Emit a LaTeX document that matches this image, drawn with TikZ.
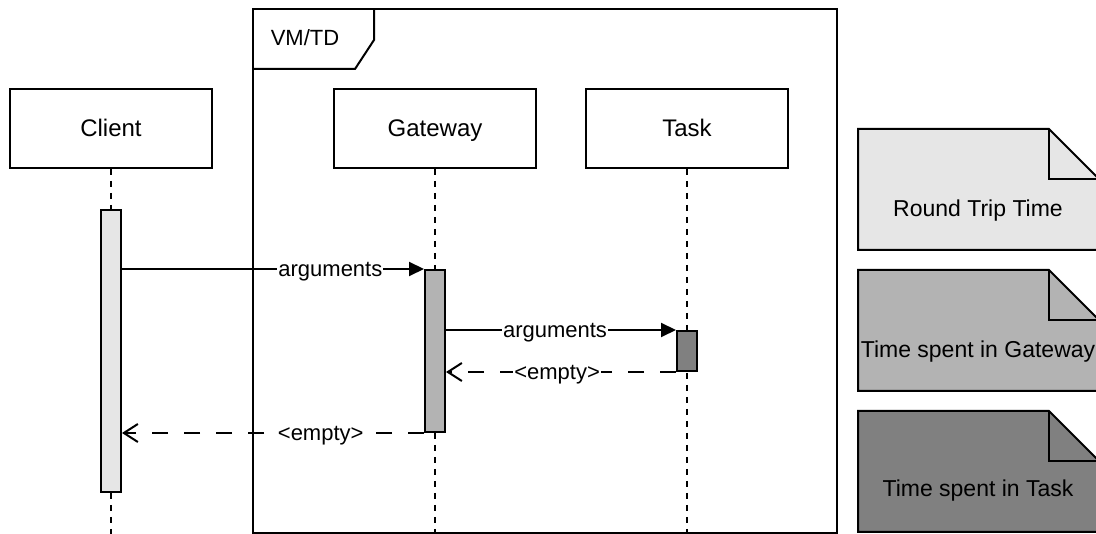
\documentclass[tikz,border=0pt]{standalone}
\usepackage{fontspec}
\setmainfont{Liberation Sans}
\usetikzlibrary{arrows.meta}
\definecolor{barlight}{HTML}{E6E6E6}
\definecolor{barmid}{HTML}{B3B3B3}
\definecolor{bardark}{HTML}{808080}
\tikzset{
  lbl/.style={font=\fontsize{22}{26}\selectfont, inner sep=0pt, text height=16pt, text depth=4pt},
  head/.style={draw, line width=2pt, fill=white, minimum width=202pt, minimum height=79pt,
    inner sep=0pt, text height=19pt, text depth=3pt, font=\fontsize{24}{28}\selectfont},
  bar/.style={draw, line width=2pt, minimum width=20pt, inner sep=0pt},
  lifeline/.style={line width=2pt, dash pattern=on 6pt off 6pt},
  call/.style={line width=2pt, -{Triangle[length=15pt,width=14pt]}},
  reply/.style={line width=2pt, dash pattern=on 16pt off 16pt,
    -{Straight Barb[length=14pt,width=18pt,line width=2pt]}},
  msglabel/.style={fill=white, inner sep=1pt, text height=17.5pt, text depth=2.5pt,
    font=\fontsize{22}{26}\selectfont},
  notebox/.style={line width=2pt, draw=black},
  notetext/.style={font=\fontsize{23}{27}\selectfont, inner sep=0pt, text height=17.5pt, text depth=4pt}
}
\begin{document}
\begin{tikzpicture}[x=1pt, y=-1pt]
\useasboundingbox (0,0) rectangle (1096,534);

% frame of the VM/TD region
\draw[line width=2pt] (253,9) rectangle (837,533);
\draw[line width=2pt] (374,9) -- (374,40) -- (355,69) -- (253,69);
\node[lbl] (frametitle) at (305,40) {VM/TD};

% lifeline heads
\node[head] (client)  at (111,128.5) {Client};
\node[head] (gateway) at (435,128.5) {Gateway};
\node[head] (task)    at (687,128.5) {Task};

% lifelines
\coordinate (endC) at (111,534);
\coordinate (endG) at (435,534);
\coordinate (endT) at (687,534);
\draw[lifeline] (client.south)  -- (endC);
\draw[lifeline] (gateway.south) -- (endG);
\draw[lifeline] (task.south)    -- (endT);

% activation bars
\node[bar, fill=barlight, minimum height=282pt] (actC) at (111,351) {};
\node[bar, fill=barmid,   minimum height=162pt] (actG) at (435,351) {};
\node[bar, fill=bardark,  minimum height=40pt]  (actT) at (687,351) {};

% messages
\draw[call] (actC.east |- actG.north) -- node[msglabel, pos=0.69] (m1) {arguments} (actG.north west);
\draw[call] (actG.east |- actT.north) -- node[msglabel, pos=0.474] (m2) {arguments} (actT.north west);
\draw[reply] (actT.south west) -- node[msglabel, pos=0.517] (r2) {<empty>} (actG.east |- actT.south);
\draw[reply] (actG.south west) -- node[msglabel, pos=0.342] (r1) {<empty>} (actC.east |- actG.south);

% legend notes
\foreach \top/\col in {129/barlight, 270/barmid, 411/bardark}{
  \filldraw[notebox, fill=\col] (858,\top) -- (1049,\top) -- (1099,\top+50)
    -- (1099,\top+121) -- (858,\top+121) -- cycle;
  \draw[notebox] (1049,\top) -- (1049,\top+50) -- (1099,\top+50);
}
\node[notetext] (noteA) at (978,210) {Round Trip Time};
\node[notetext] (noteB) at (978,351) {Time spent in Gateway};
\node[notetext] (noteC) at (978,490) {Time spent in Task};
\end{tikzpicture}
\end{document}
